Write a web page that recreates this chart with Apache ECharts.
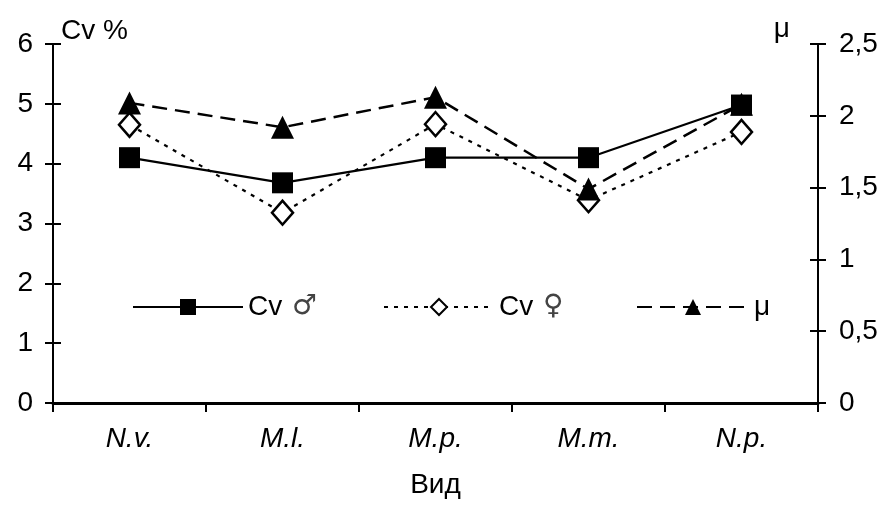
<!DOCTYPE html>
<html><head><meta charset="utf-8">
<script src="https://cdn.jsdelivr.net/npm/echarts@6/dist/echarts.min.js"></script>
<style>html,body{margin:0;padding:0;background:#fff}#c{width:884px;height:520px}</style>
</head><body><div id="c"></div>
<script>
const categories = ['N.v.', 'M.l.', 'M.p.', 'M.m.', 'N.p.'];
const cvMale = [4.10, 3.68, 4.10, 4.10, 4.98];
const cvFemale = [4.65, 3.18, 4.66, 3.39, 4.53];
const mu = [2.09, 1.92, 2.13, 1.49, 2.08];
const leftTicks = [0, 1, 2, 3, 4, 5, 6];
const rightTicks = ['0', '0,5', '1', '1,5', '2', '2,5'];

const FONT = "'Liberation Sans', Arial, 'DejaVu Sans', sans-serif";
const FS = 28;
const chart = echarts.init(document.getElementById('c'));
const black = '#000';
const yBase = {
  type: 'value', splitLine: {show: false},
  axisLine: {show: true, lineStyle: {color: black, width: 2}},
  axisTick: {show: true, length: 8, lineStyle: {color: black, width: 2}}
};
const legText = {
  fontFamily: FONT, fontSize: FS, color: black, padding: [0, 0, 0, 0],
  rich: {s: {fontFamily: "'DejaVu Sans', sans-serif", fontSize: 28, color: '#444', padding: [0, 0, 0, 2]}}
};
const legFmt = name => name.replace(/([♂♀])/, '{s|$1}');
chart.setOption({
  animation: false,
  backgroundColor: '#fff',
  textStyle: {fontFamily: FONT, color: black},
  grid: {left: 53, right: 66, top: 44, bottom: 117, containLabel: false},
  legend: [
    {data: ['Cv ♂'], left: 127, top: 288, itemWidth: 110, itemHeight: 20, itemGap: 0, formatter: legFmt, textStyle: legText},
    {data: ['Cv ♀'], left: 378, top: 288, itemWidth: 110, itemHeight: 20, itemGap: 0, formatter: legFmt, textStyle: legText},
    {data: ['μ'], left: 631, top: 288, itemWidth: 112, itemHeight: 20, itemGap: 0, formatter: legFmt, textStyle: legText}
  ],
  xAxis: {
    type: 'category', data: categories, boundaryGap: true,
    axisLine: {show: true, lineStyle: {color: black, width: 3}},
    axisTick: {show: true, length: 9, lineStyle: {color: black, width: 2}},
    axisLabel: {margin: 22, fontSize: FS, fontStyle: 'italic', color: black, fontFamily: FONT},
    name: 'Вид', nameLocation: 'middle', nameGap: 68,
    nameTextStyle: {fontSize: FS, color: black, fontFamily: FONT}
  },
  yAxis: [
    Object.assign({}, yBase, {
      position: 'left', min: 0, max: 6, interval: 1,
      axisLabel: {margin: 20, fontSize: FS, color: black, fontFamily: FONT,
        formatter: v => String(leftTicks[Math.round(v)])},
      name: 'Cv %', nameLocation: 'end', nameGap: 13,
      nameTextStyle: {fontSize: FS, color: black, fontFamily: FONT, align: 'left', verticalAlign: 'middle', padding: [0, 0, 0, 8]}
    }),
    Object.assign({}, yBase, {
      position: 'right', min: 0, max: 2.5, interval: 0.5,
      axisLabel: {margin: 21, fontSize: FS, color: black, fontFamily: FONT,
        formatter: v => rightTicks[Math.round(v * 2)]},
      name: 'μ', nameLocation: 'end', nameGap: 15,
      nameTextStyle: {fontSize: FS, color: black, fontFamily: FONT, align: 'right', verticalAlign: 'middle', padding: [0, 28, 0, 0]}
    }),
    Object.assign({}, yBase, {position: 'left', min: 0, max: 6, interval: 1,
      axisLine: {show: false}, axisLabel: {show: false},
      axisTick: {show: true, inside: true, length: 8, lineStyle: {color: black, width: 2}}}),
    Object.assign({}, yBase, {position: 'right', min: 0, max: 2.5, interval: 0.5,
      axisLine: {show: false}, axisLabel: {show: false},
      axisTick: {show: true, inside: true, length: 8, lineStyle: {color: black, width: 2}}})
  ],
  series: [
    {name: 'Cv ♂', type: 'line', data: cvMale, yAxisIndex: 0, z: 5,
     symbol: 'rect', symbolSize: 21,
     lineStyle: {color: black, width: 2.2, type: 'solid'},
     itemStyle: {color: black, borderColor: black, borderWidth: 0}},
    {name: 'Cv ♀', type: 'line', data: cvFemale, yAxisIndex: 0, z: 3,
     symbol: 'diamond', symbolSize: [21, 24],
     lineStyle: {color: black, width: 2.2, type: [4, 6]},
     itemStyle: {color: '#fff', borderColor: black, borderWidth: 2.5}},
    {name: 'μ', type: 'line', data: mu, yAxisIndex: 1, z: 4,
     symbol: 'triangle', symbolSize: 23,
     lineStyle: {color: black, width: 2.5, type: [15, 8]},
     itemStyle: {color: black, borderColor: black, borderWidth: 0}}
  ]
});
</script></body></html>
